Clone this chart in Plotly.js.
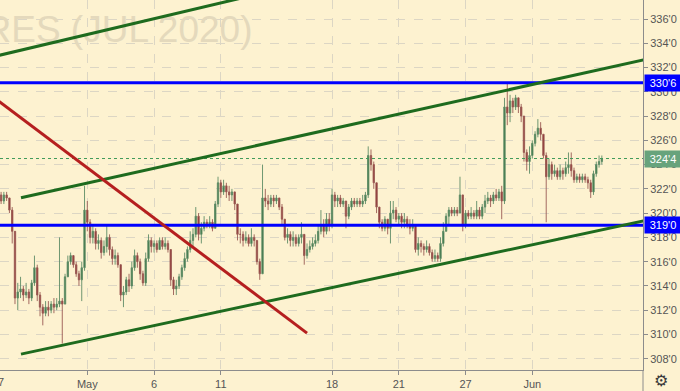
<!DOCTYPE html>
<html>
<head>
<meta charset="utf-8">
<script src="https://cdn.plot.ly/plotly-3.0.1.min.js"></script>
<style>html,body{margin:0;padding:0;background:#fdf2d0;}#chart{width:680px;height:391px;}</style>
</head>
<body>
<div id="chart"></div>
<script>
// Corn futures (JUL 2020), intraday bars, 8 bars per trading session
const barsPerDay = 8;
const tickDays = [0, 4, 7, 10, 15, 18, 21, 24];
const tickText = ['27', 'May', '6', '11', '18', '21', '27', 'Jun'];

const openP = [
321.25,321.5,321.0,321.5,321.25,320.25,318.5,313.0,
313.5,313.75,313.25,313.5,313.0,314.25,315.5,313.25,
312.25,311.75,312.25,312.0,312.5,312.25,312.5,312.75,
312.5,314.75,316.0,316.5,315.75,315.0,314.5,315.5,
320.25,319.25,318.0,318.5,317.5,317.75,316.75,317.25,
318.0,317.0,316.25,316.5,315.75,313.25,313.5,314.5,
314.0,315.5,316.5,316.0,315.0,314.25,316.25,317.75,
317.25,317.5,317.0,317.75,317.25,317.5,317.0,314.5,
313.75,314.0,314.75,315.5,316.25,317.0,317.75,318.25,
319.75,318.25,318.75,319.25,319.0,319.25,318.75,320.75,
322.5,321.75,322.25,321.75,321.5,321.75,320.75,318.25,
318.25,317.75,318.0,317.5,318.0,317.75,316.0,315.0,
321.25,321.0,320.75,321.25,321.0,321.25,320.5,319.5,
318.0,318.25,317.75,318.0,317.5,318.0,318.25,316.5,
317.0,317.25,317.5,317.75,318.5,319.0,318.5,319.5,
319.0,321.5,321.0,321.25,320.75,321.0,319.75,320.5,
321.0,320.75,321.0,320.75,321.0,321.5,324.75,324.0,
322.5,320.5,319.25,318.75,319.5,318.75,320.0,320.25,
319.5,319.75,319.25,319.5,319.0,318.75,319.0,317.0,
317.5,317.25,317.0,317.25,316.75,316.25,316.5,316.25,
317.5,318.5,319.75,320.25,320.0,320.25,320.0,321.5,
319.0,320.0,319.75,320.0,319.75,320.25,319.75,320.5,
321.0,321.25,321.0,321.5,321.25,321.75,321.0,328.75,
328.25,329.25,328.75,329.5,328.75,328.0,325.0,324.25,
324.75,325.75,326.5,327.0,326.5,324.75,323.0,324.0,
323.25,323.5,323.0,323.5,323.25,323.75,324.0,323.5,
322.75,323.0,322.75,323.0,322.75,322.5,321.75,323.25,
324.0,324.25
];
const highP = [
321.75,321.75,321.75,321.75,321.25,320.5,318.5,314.25,
314.75,314.0,314.25,313.75,314.5,316.5,315.75,313.5,
312.5,312.75,312.75,312.75,313.0,313.0,318.0,313.0,
315.0,316.5,316.75,316.5,316.0,315.25,316.0,322.25,
321.0,319.5,319.0,318.75,318.25,318.0,317.75,319.0,
318.25,317.25,317.0,316.75,315.75,314.0,314.75,315.0,
316.0,317.0,316.75,316.25,315.25,316.75,318.25,318.0,
317.75,317.75,318.0,318.0,318.0,317.75,317.0,314.75,
314.5,315.0,315.75,316.75,317.25,318.5,318.75,320.5,
320.0,319.25,319.75,319.5,319.75,319.5,321.0,323.0,
322.75,322.75,322.5,322.25,322.0,321.75,320.75,318.75,
318.5,318.5,318.25,318.75,318.25,317.75,316.25,324.0,
322.0,321.5,321.5,321.5,321.5,321.25,320.75,319.5,
318.75,318.5,318.5,318.25,318.25,319.25,318.25,317.5,
317.75,318.0,318.25,319.0,320.25,319.5,320.0,320.0,
322.0,321.75,321.5,321.5,321.25,321.0,320.75,321.25,
321.25,321.25,321.25,321.5,321.75,325.5,325.25,324.25,
322.5,320.5,319.5,319.75,319.5,321.0,321.0,320.5,
320.0,320.0,320.0,319.75,319.5,319.5,319.0,318.0,
317.75,317.5,317.75,317.5,317.0,317.0,316.75,318.0,
319.25,320.0,320.5,320.5,320.5,320.5,323.0,321.5,
320.25,320.25,320.5,320.25,321.0,320.5,320.75,321.5,
321.75,321.5,321.75,322.0,322.0,322.25,329.5,330.75,
329.75,329.5,329.75,329.5,329.0,328.0,325.25,325.5,
326.0,326.75,327.75,327.5,326.5,325.0,324.5,324.25,
324.0,323.75,324.0,323.75,324.25,325.0,325.0,323.75,
323.25,323.25,323.25,323.25,323.0,322.75,323.5,324.25,
324.75,324.75
];
const lowP = [
321.0,320.75,320.75,321.0,320.0,317.5,312.5,312.0,
313.0,312.75,313.0,312.5,312.75,314.0,312.75,311.5,
310.75,311.5,311.5,311.75,311.75,312.0,312.25,309.25,
312.5,314.75,315.75,315.5,314.75,314.0,312.75,315.25,
318.5,317.5,317.5,317.0,317.0,316.25,316.5,316.75,
316.5,315.75,315.75,315.5,312.75,312.25,313.25,313.5,
313.75,315.25,315.5,314.5,314.0,314.0,316.0,316.75,
316.75,316.75,317.0,317.0,317.0,316.75,314.0,313.25,
313.25,313.75,314.5,315.25,316.0,316.75,317.25,318.0,
317.75,317.5,318.5,318.75,318.75,318.5,318.75,320.5,
321.25,321.5,321.25,321.0,321.0,320.25,317.75,317.5,
317.25,317.5,317.25,317.25,317.25,315.75,314.5,315.0,
320.5,320.25,320.5,320.5,320.75,320.25,319.0,317.75,
317.5,317.25,317.25,317.25,317.25,317.5,315.75,316.25,
316.75,317.0,317.25,317.5,318.25,318.0,318.25,318.5,
318.75,320.5,320.5,320.5,320.5,318.75,319.5,320.25,
320.5,320.5,320.5,320.5,320.75,321.25,323.5,322.0,
320.0,318.75,318.5,318.5,318.25,317.5,319.5,319.25,
319.0,318.75,318.75,318.75,318.25,318.5,316.75,316.5,
316.75,316.5,316.75,316.5,316.0,316.0,316.0,316.0,
317.25,318.5,319.0,319.75,319.75,319.75,320.0,318.5,
318.75,319.5,319.5,319.5,319.5,319.5,319.5,320.0,
320.75,320.5,320.75,321.0,321.0,319.5,320.75,327.25,
327.5,328.25,328.5,328.25,327.5,324.25,323.5,323.25,
324.5,325.5,326.25,326.0,324.5,319.25,322.75,322.75,
323.0,322.75,322.75,322.75,323.0,323.25,323.0,322.5,
322.5,322.5,322.5,322.5,322.0,321.25,321.5,323.0,
323.75,324.0
];
const closeP = [
321.5,321.0,321.5,321.25,320.25,318.5,313.0,313.5,
313.75,313.25,313.5,313.0,314.25,315.5,313.25,312.25,
311.75,312.25,312.0,312.5,312.25,312.5,312.75,312.5,
314.75,316.0,316.5,315.75,315.0,314.5,315.5,320.25,
319.25,318.0,318.5,317.5,317.75,316.75,317.25,318.0,
317.0,316.25,316.5,315.75,313.25,313.5,314.5,314.0,
315.5,316.5,316.0,315.0,314.25,316.25,317.75,317.25,
317.5,317.0,317.75,317.25,317.5,317.0,314.5,313.75,
314.0,314.75,315.5,316.25,317.0,317.75,318.25,319.75,
318.25,318.75,319.25,319.0,319.25,318.75,320.75,322.5,
321.75,322.25,321.75,321.5,321.75,320.75,318.25,318.25,
317.75,318.0,317.5,318.0,317.75,316.0,315.0,321.25,
321.0,320.75,321.25,321.0,321.25,320.5,319.5,318.0,
318.25,317.75,318.0,317.5,318.0,318.25,316.5,317.0,
317.25,317.5,317.75,318.5,319.0,318.5,319.5,319.0,
321.5,321.0,321.25,320.75,321.0,319.75,320.5,321.0,
320.75,321.0,320.75,321.0,321.5,324.75,324.0,322.5,
320.5,319.25,318.75,319.5,318.75,320.0,320.25,319.5,
319.75,319.25,319.5,319.0,318.75,319.0,317.0,317.5,
317.25,317.0,317.25,316.75,316.25,316.5,316.25,317.5,
318.5,319.75,320.25,320.0,320.25,320.0,321.5,319.0,
320.0,319.75,320.0,319.75,320.25,319.75,320.5,321.0,
321.25,321.0,321.5,321.25,321.75,321.0,328.75,328.25,
329.25,328.75,329.5,328.75,328.0,325.0,324.25,324.75,
325.75,326.5,327.0,326.5,324.75,323.0,324.0,323.25,
323.5,323.0,323.5,323.25,323.75,324.0,323.5,322.75,
323.0,322.75,323.0,322.75,322.5,321.75,323.25,324.0,
324.25,324.5
];

// price axis ticks (cents, quoted as cents'eighths)
const priceTicks = [308,310,312,314,316,318,320,322,324,326,328,330,332,334,336];
const priceTickText = priceTicks.map(v => v + "'0");

// horizontal levels and drawn trend lines: [barIndex0, price0, barIndex1, price1]
const levels = [330.75, 319.0];
const levelText = ["330'6", "319'0"];
const lastPrice = 324.5;
const lastPriceText = "324'4";
const channelLines = [[-3, 332.83, 110, 338.95], [8.16, 321.27, 240, 333.04], [8.16, 308.38, 240, 319.75]];
const redLine = [-3, 329.78, 111.0, 310.11];

const barIndex = closeP.map((_, i) => i);
const tickVals = tickDays.map(d => d * barsPerDay);

const BG = '#fdf2d0';
const FONT = "'Liberation Sans Narrow', 'Liberation Sans', Arial, sans-serif";

const traces = [
  {
    type: 'scatter', mode: 'text', x: [91.4], y: [334.85],
    text: ['CORN FUTURES (JUL 2020)'], textposition: 'middle left',
    textfont: {family: "'Liberation Sans', Arial, sans-serif", size: 37, color: '#e4d9bc'},
    hoverinfo: 'skip', showlegend: false
  },
  {
    type: 'candlestick', x: barIndex, open: openP, high: highP, low: lowP, close: closeP,
    increasing: {line: {color: '#5f8c66', width: 0.9}, fillcolor: '#3a7444'},
    decreasing: {line: {color: '#9a5a54', width: 0.9}, fillcolor: '#8f3030'},
    whiskerwidth: 0, hoverinfo: 'skip', showlegend: false
  }
];

const shapes = [];
levels.forEach(v => shapes.push({type: 'line', xref: 'paper', x0: 0, x1: 1, yref: 'y', y0: v, y1: v,
  line: {color: '#0000ff', width: 3}}));
shapes.push({type: 'line', xref: 'paper', x0: 0, x1: 1, yref: 'y', y0: lastPrice, y1: lastPrice,
  line: {color: '#3f9a58', width: 1, dash: 'dot'}});
channelLines.forEach(l => shapes.push({type: 'line', xref: 'x', yref: 'y', x0: l[0], y0: l[1], x1: l[2], y1: l[3],
  line: {color: '#1e6b1e', width: 3}}));
shapes.push({type: 'line', xref: 'x', yref: 'y', x0: redLine[0], y0: redLine[1], x1: redLine[2], y1: redLine[3],
  line: {color: '#b51f1f', width: 3}});
// axis line continuing below the plot
shapes.push({type: 'line', xref: 'paper', yref: 'paper', x0: 1, x1: 1, y0: -0.07, y1: 0,
  line: {color: '#8c8c8c', width: 1}});

const annotations = [];
levels.forEach((v, i) => annotations.push({xref: 'paper', x: 1, xanchor: 'left', xshift: 1, yref: 'y', y: v, yanchor: 'middle',
  text: levelText[i], showarrow: false, bgcolor: '#0000ff', width: 34, height: 14, borderpad: 1,
  font: {family: FONT, size: 11, color: '#ffffff'}}));
annotations.push({xref: 'paper', x: 1, xanchor: 'left', xshift: 1, yref: 'y', y: lastPrice, yanchor: 'middle',
  text: lastPriceText, showarrow: false, bgcolor: '#67a37c', width: 34, height: 14, borderpad: 1,
  font: {family: FONT, size: 11, color: '#ffffff'}});
annotations.push({xref: 'paper', x: -1.7 / 643, xanchor: 'center', yref: 'paper', y: -0.032, yanchor: 'middle',
  text: tickText[0], showarrow: false, font: {family: FONT, size: 11, color: '#555555'}});
annotations.push({xref: 'paper', x: 661 / 643, xanchor: 'center', yref: 'paper', y: -0.028, yanchor: 'middle',
  text: '⚙', showarrow: false, font: {family: 'DejaVu Sans', size: 16, color: '#3a3a3a'}});

const layout = {
  width: 680, height: 391,
  margin: {l: 0, r: 37, t: 0, b: 21, pad: 0},
  paper_bgcolor: BG, plot_bgcolor: BG,
  showlegend: false,
  font: {family: FONT, size: 11, color: '#555555'},
  xaxis: {
    range: [0.611, 231.8], tickmode: 'array', tickvals: tickVals, ticktext: tickText,
    showgrid: true, gridcolor: '#dcd6c4', griddash: 'dash', gridwidth: 1, zeroline: false,
    showline: true, linecolor: '#8c8c8c', linewidth: 1,
    ticks: 'outside', ticklen: 4, tickcolor: '#8c8c8c',
    rangeslider: {visible: false}, fixedrange: true
  },
  yaxis: {
    side: 'right', range: [307.07, 337.566], tickmode: 'array', tickvals: priceTicks, ticktext: priceTickText,
    showgrid: true, gridcolor: '#dcd6c4', griddash: 'dash', gridwidth: 1, zeroline: false,
    showline: true, linecolor: '#8c8c8c', linewidth: 1,
    ticks: 'outside', ticklen: 4, tickcolor: '#8c8c8c', fixedrange: true
  },
  shapes: shapes,
  annotations: annotations
};

Plotly.newPlot('chart', traces, layout, {displayModeBar: false, staticPlot: true});
</script>
</body>
</html>
